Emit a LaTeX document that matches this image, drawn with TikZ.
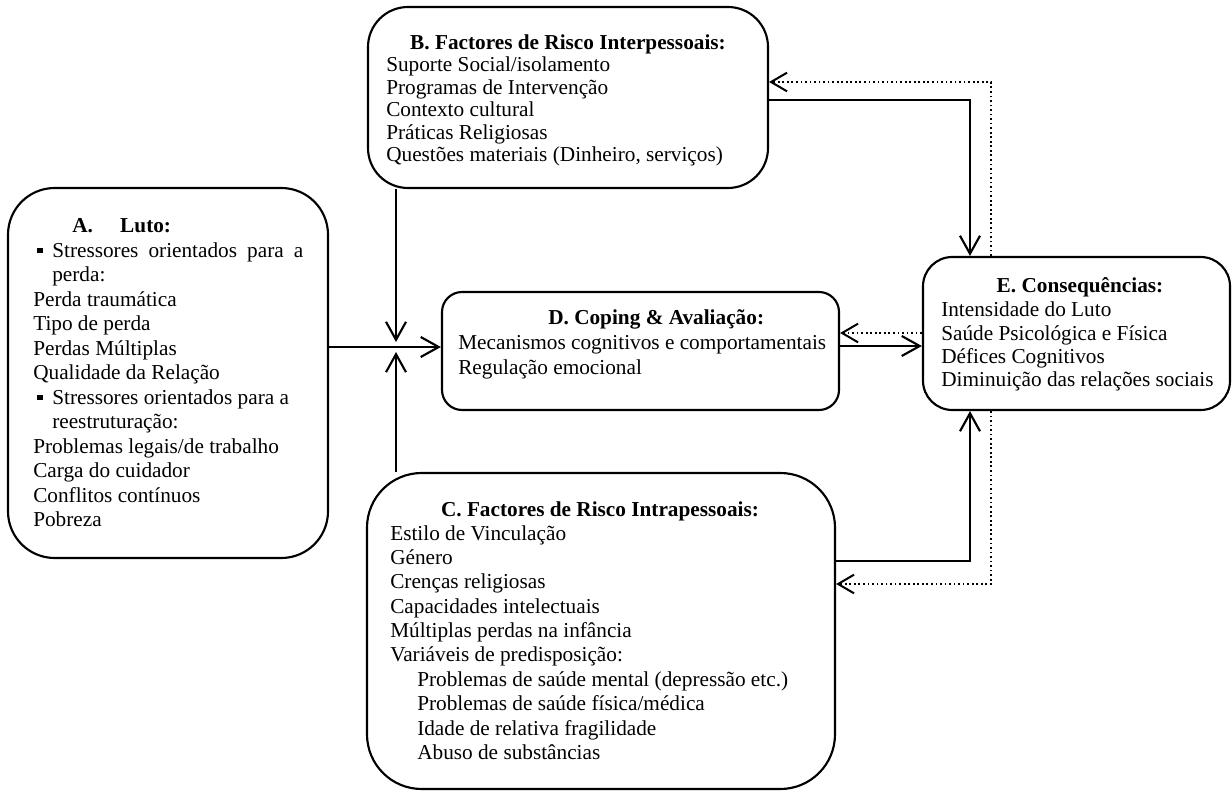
\documentclass[tikz,border=0pt]{standalone}
\usepackage{fontspec}
\setmainfont{Liberation Serif}
\usetikzlibrary{arrows.meta}
\newcommand{\blk}[2]{{\fontsize{15.95}{#1}\selectfont\begin{tabular}[t]{@{}l@{}}#2\end{tabular}}}
\newcommand{\sqb}{\hspace*{3pt}\rule[3pt]{4pt}{4pt}\hspace*{7.25pt}}
\begin{document}
\begin{tikzpicture}[x=0.75pt,y=-0.75pt,
  box/.style={draw,line width=1.6pt,inner sep=0pt,fill=none},
  txt/.style={anchor=base west,inner sep=0pt,font=\fontsize{15.95}{18}\selectfont},
  ttl/.style={anchor=base,inner sep=0pt,font=\fontsize{15.95}{18}\selectfont\bfseries},
  arr/.style={line width=1.6pt,-{Straight Barb[length=13.5pt,width=15pt]}},
  dotarr/.style={line width=1.3pt,dash pattern=on 1.3pt off 2.1pt,-{Straight Barb[length=12pt,width=14pt,line width=1.5pt]}}]
\useasboundingbox (0,0) rectangle (1232,791);
% boxes
\node[box,minimum width=240pt,minimum height=277.5pt,rounded corners=35pt] (A) at (168,373) {};
\node[box,minimum width=300pt,minimum height=135.75pt,rounded corners=30pt] (B) at (568,97.5) {};
\node[box,minimum width=351pt,minimum height=237pt,rounded corners=41pt] (C) at (601,631) {};
\node[box,minimum width=297.75pt,minimum height=88.5pt,rounded corners=15pt] (D) at (640.5,351) {};
\node[box,minimum width=230.25pt,minimum height=114.75pt,rounded corners=22pt] (E) at (1076.5,333.5) {};
% texts A
\node[txt,font=\fontsize{15.95}{18}\selectfont\bfseries] (tAt) at (72,233) {\makebox[36pt][l]{A.}Luto:};
\node[txt] (tA) at (33,257.5) {\blk{18.375pt}{%
\sqb\makebox[188.25pt][s]{Stressores orientados para a}\\
\hspace*{14.25pt}perda:\\
Perda traumática\\
Tipo de perda\\
Perdas Múltiplas\\
Qualidade da Relação\\
\sqb Stressores orientados para a\\
\hspace*{14.25pt}reestruturação:\\
Problemas legais/de trabalho\\
Carga do cuidador\\
Conflitos contínuos\\
Pobreza}};
% texts B
\node[ttl] (tBt) at (568,50) {B. Factores de Risco Interpessoais:};
\node[txt] (tB) at (386,72) {\blk{16.875pt}{%
Suporte Social/isolamento\\
Programas de Intervenção\\
Contexto cultural\\
Práticas Religiosas\\
Questões materiais (Dinheiro, serviços)}};
% texts C
\node[ttl] (tCt) at (600,517) {C. Factores de Risco Intrapessoais:};
\node[txt] (tC) at (390,540) {\blk{18.3pt}{%
Estilo de Vinculação\\
Género\\
Crenças religiosas\\
Capacidades intelectuais\\
Múltiplas perdas na infância\\
Variáveis de predisposição:\\
\hspace*{20.25pt}Problemas de saúde mental (depressão etc.)\\
\hspace*{20.25pt}Problemas de saúde física/médica\\
\hspace*{20.25pt}Idade de relativa fragilidade\\
\hspace*{20.25pt}Abuso de substâncias}};
% texts D
\node[txt,font=\fontsize{15.95}{18}\selectfont\bfseries] (tDt) at (548,325) {D. Coping \& Avaliação:};
\node[txt] (tD) at (458,350) {\blk{18.375pt}{%
Mecanismos cognitivos e comportamentais\\
Regulação emocional}};
% texts E
\node[ttl] (tEt) at (1080,293) {E. Consequências:};
\node[txt] (tE) at (941,317) {\blk{17.5pt}{%
Intensidade do Luto\\
Saúde Psicológica e Física\\
Défices Cognitivos\\
Diminuição das relações sociais}};
% junction coordinates
\coordinate (J) at (396,347);
\coordinate (Jt) at (396,342);
\coordinate (Jb) at (396,352);
\coordinate (P1) at (970,100);
\coordinate (P2) at (991,82);
\coordinate (P3) at (0,346);
\coordinate (P4) at (0,333);
\coordinate (P5) at (970,561);
\coordinate (P6) at (991,584);
% connectors
\draw[arr] (B.south -| Jt) -- (Jt);
\draw[arr] (C.north -| Jb) -- (Jb);
\draw[arr] (A.east |- J) -- (D.west |- J);
\draw[arr] (B.east |- P1) -| (E.north -| P1);
\draw[dotarr] (E.north -| P2) |- (B.east |- P2);
\draw[arr] (D.east |- P3) -- (E.west |- P3);
\draw[dotarr] (E.west |- P4) -- (D.east |- P4);
\draw[arr] (C.east |- P5) -| (E.south -| P5);
\draw[dotarr] (E.south -| P6) |- (C.east |- P6);
\end{tikzpicture}
\end{document}
